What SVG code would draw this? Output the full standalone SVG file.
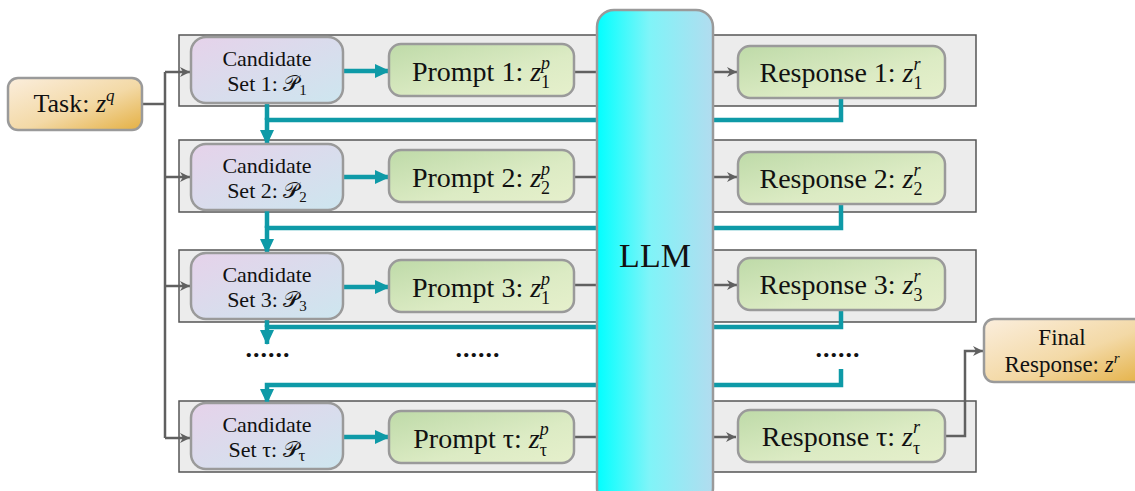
<svg xmlns="http://www.w3.org/2000/svg" width="1135" height="491" viewBox="0 0 1135 491">
<defs>
<linearGradient id="gTask" x1="0" y1="0" x2="1" y2="1"><stop offset="0" stop-color="#fbeedd"/><stop offset="0.55" stop-color="#f3d9a6"/><stop offset="1" stop-color="#e4b043"/></linearGradient>
<linearGradient id="gCand" x1="0" y1="0" x2="1" y2="1"><stop offset="0" stop-color="#e6d2ea"/><stop offset="1" stop-color="#cde6ef"/></linearGradient>
<linearGradient id="gGreen" x1="0" y1="0" x2="1" y2="1"><stop offset="0" stop-color="#bedaa8"/><stop offset="0.6" stop-color="#dcebc4"/><stop offset="1" stop-color="#e6f0cc"/></linearGradient>
<linearGradient id="gLLM" x1="0" y1="0" x2="1" y2="0"><stop offset="0" stop-color="#00ffff"/><stop offset="0.45" stop-color="#7ff4f8"/><stop offset="1" stop-color="#b2dcef"/></linearGradient>
<marker id="aT" markerUnits="userSpaceOnUse" markerWidth="16" markerHeight="16" refX="14" refY="7" orient="auto"><path d="M0,0 L15,7 L0,14 Z" fill="#0e9aa7"/></marker>
<marker id="aG" markerUnits="userSpaceOnUse" markerWidth="12" markerHeight="12" refX="10" refY="5" orient="auto"><path d="M0,0 L10,5 L0,10 L3,5 Z" fill="#606060"/></marker>
</defs>
<style>
.panel{fill:#ececec;stroke:#555;stroke-width:1.5}
.box{stroke:#9a9a9a;stroke-width:2.5}
.t{font-family:"Liberation Serif","DejaVu Serif",serif;fill:#111}
.it{font-style:italic}
.teal{fill:none;stroke:#0e9aa7;stroke-width:4.5}
.gray{fill:none;stroke:#606060;stroke-width:2.5}
.c{font-size:22px}
.pr{font-size:28px}
</style>

<g id="panels">
<rect class="panel" x="179" y="35" width="797" height="71"/>
<rect class="panel" x="179" y="140" width="797" height="72"/>
<rect class="panel" x="179" y="250" width="797" height="72"/>
<rect class="panel" x="179" y="401" width="797" height="71"/>
</g>

<g id="connectors">
<path class="gray" d="M142 104 H165"/>
<path class="gray" d="M165 72 V438"/>
<path class="gray" d="M165 72 H190" marker-end="url(#aG)"/>
<path class="gray" d="M165 177 H190" marker-end="url(#aG)"/>
<path class="gray" d="M165 286 H190" marker-end="url(#aG)"/>
<path class="gray" d="M165 438 H190" marker-end="url(#aG)"/>
<path class="teal" d="M343 71 H389" marker-end="url(#aT)"/>
<path class="teal" d="M343 177 H389" marker-end="url(#aT)"/>
<path class="teal" d="M343 287 H389" marker-end="url(#aT)"/>
<path class="teal" d="M343 437 H389" marker-end="url(#aT)"/>
<path class="gray" d="M574 72 H737" marker-end="url(#aG)"/>
<path class="gray" d="M574 177 H737" marker-end="url(#aG)"/>
<path class="gray" d="M574 285 H737" marker-end="url(#aG)"/>
<path class="gray" d="M574 437 H736" marker-end="url(#aG)"/>
<path class="teal" d="M267 103 V120"/>
<path class="teal" d="M841 98 V120 H267 V144" marker-end="url(#aT)"/>
<path class="teal" d="M267 210 V228"/>
<path class="teal" d="M841 203 V228 H267 V253" marker-end="url(#aT)"/>
<path class="teal" d="M267 319 V327"/>
<path class="teal" d="M841 310 V327 H267 V344" marker-end="url(#aT)"/>
<path class="teal" d="M841 369 V385 H267 V403" marker-end="url(#aT)"/>
<path class="gray" d="M945 436 H965 V351 H983" marker-end="url(#aG)"/>
</g>

<g id="llm">
<rect x="597" y="10" width="116" height="495" rx="17" fill="url(#gLLM)" stroke="#9a9a9a" stroke-width="2.5"/>
<text class="t" x="655" y="267" font-size="34" text-anchor="middle">LLM</text>
</g>

<g id="task">
<rect class="box" x="8" y="78" width="134" height="52" rx="10" fill="url(#gTask)"/>
<text class="t" x="74" y="112" font-size="26" text-anchor="middle">Task: <tspan class="it">z</tspan><tspan class="it" font-size="17" dy="-11">q</tspan></text>
</g>

<g id="cand1">
<rect class="box" x="191" y="37" width="152" height="66" rx="15" fill="url(#gCand)"/>
<text class="t c" x="267" y="66" text-anchor="middle">Candidate</text>
<text class="t c" x="267" y="91" text-anchor="middle">Set 1: 𝒫<tspan font-size="15" dy="4">1</tspan></text>
</g>
<g id="cand2">
<rect class="box" x="191" y="144" width="152" height="66" rx="15" fill="url(#gCand)"/>
<text class="t c" x="267" y="173" text-anchor="middle">Candidate</text>
<text class="t c" x="267" y="198" text-anchor="middle">Set 2: 𝒫<tspan font-size="15" dy="4">2</tspan></text>
</g>
<g id="cand3">
<rect class="box" x="191" y="253" width="152" height="66" rx="15" fill="url(#gCand)"/>
<text class="t c" x="267" y="282" text-anchor="middle">Candidate</text>
<text class="t c" x="267" y="307" text-anchor="middle">Set 3: 𝒫<tspan font-size="15" dy="4">3</tspan></text>
</g>
<g id="candT">
<rect class="box" x="191" y="403" width="152" height="66" rx="15" fill="url(#gCand)"/>
<text class="t c" x="267" y="432" text-anchor="middle">Candidate</text>
<text class="t c" x="267" y="457" text-anchor="middle">Set τ: 𝒫<tspan font-size="17" dy="4">τ</tspan></text>
</g>

<g id="prompt1">
<rect class="box" x="389" y="44" width="185" height="52" rx="12" fill="url(#gGreen)"/>
<text class="t pr" x="481" y="81" text-anchor="middle">Prompt 1: <tspan class="it">z</tspan><tspan class="it" font-size="18" dy="-12">p</tspan><tspan font-size="18" dx="-9" dy="19">1</tspan></text>
</g>
<g id="prompt2">
<rect class="box" x="389" y="150" width="185" height="52" rx="12" fill="url(#gGreen)"/>
<text class="t pr" x="481" y="187" text-anchor="middle">Prompt 2: <tspan class="it">z</tspan><tspan class="it" font-size="18" dy="-12">p</tspan><tspan font-size="18" dx="-9" dy="19">2</tspan></text>
</g>
<g id="prompt3">
<rect class="box" x="389" y="260" width="185" height="52" rx="12" fill="url(#gGreen)"/>
<text class="t pr" x="481" y="297" text-anchor="middle">Prompt 3: <tspan class="it">z</tspan><tspan class="it" font-size="18" dy="-12">p</tspan><tspan font-size="18" dx="-9" dy="19">1</tspan></text>
</g>
<g id="promptT">
<rect class="box" x="389" y="411" width="185" height="52" rx="12" fill="url(#gGreen)"/>
<text class="t pr" x="481" y="448" text-anchor="middle">Prompt τ: <tspan class="it">z</tspan><tspan class="it" font-size="18" dy="-13">p</tspan><tspan font-size="18" dx="-9" dy="21">τ</tspan></text>
</g>

<g id="resp1">
<rect class="box" x="738" y="46" width="207" height="52" rx="12" fill="url(#gGreen)"/>
<text class="t pr" x="841" y="82" text-anchor="middle">Response 1: <tspan class="it">z</tspan><tspan class="it" font-size="18" dy="-12">r</tspan><tspan font-size="18" dx="-7" dy="19">1</tspan></text>
</g>
<g id="resp2">
<rect class="box" x="738" y="152" width="207" height="52" rx="12" fill="url(#gGreen)"/>
<text class="t pr" x="841" y="188" text-anchor="middle">Response 2: <tspan class="it">z</tspan><tspan class="it" font-size="18" dy="-12">r</tspan><tspan font-size="18" dx="-7" dy="19">2</tspan></text>
</g>
<g id="resp3">
<rect class="box" x="738" y="258" width="207" height="52" rx="12" fill="url(#gGreen)"/>
<text class="t pr" x="841" y="294" text-anchor="middle">Response 3: <tspan class="it">z</tspan><tspan class="it" font-size="18" dy="-12">r</tspan><tspan font-size="18" dx="-7" dy="19">3</tspan></text>
</g>
<g id="respT">
<rect class="box" x="738" y="410" width="207" height="52" rx="12" fill="url(#gGreen)"/>
<text class="t pr" x="841" y="446" text-anchor="middle">Response τ: <tspan class="it">z</tspan><tspan class="it" font-size="18" dy="-13">r</tspan><tspan font-size="18" dx="-7" dy="21">τ</tspan></text>
</g>

<g id="final">
<rect class="box" x="984" y="319" width="165" height="63" rx="10" fill="url(#gTask)"/>
<text class="t" x="1062" y="345" font-size="23" text-anchor="middle">Final</text>
<text class="t" x="1062" y="372" font-size="23" text-anchor="middle">Response: <tspan class="it">z</tspan><tspan class="it" font-size="15" dy="-9">r</tspan></text>
</g>

<g id="dots">
<text class="t" x="268" y="357" font-size="26" font-weight="bold" text-anchor="middle" letter-spacing="1">......</text>
<text class="t" x="478" y="357" font-size="26" font-weight="bold" text-anchor="middle" letter-spacing="1">......</text>
<text class="t" x="838" y="357" font-size="26" font-weight="bold" text-anchor="middle" letter-spacing="1">......</text>
</g>
</svg>
